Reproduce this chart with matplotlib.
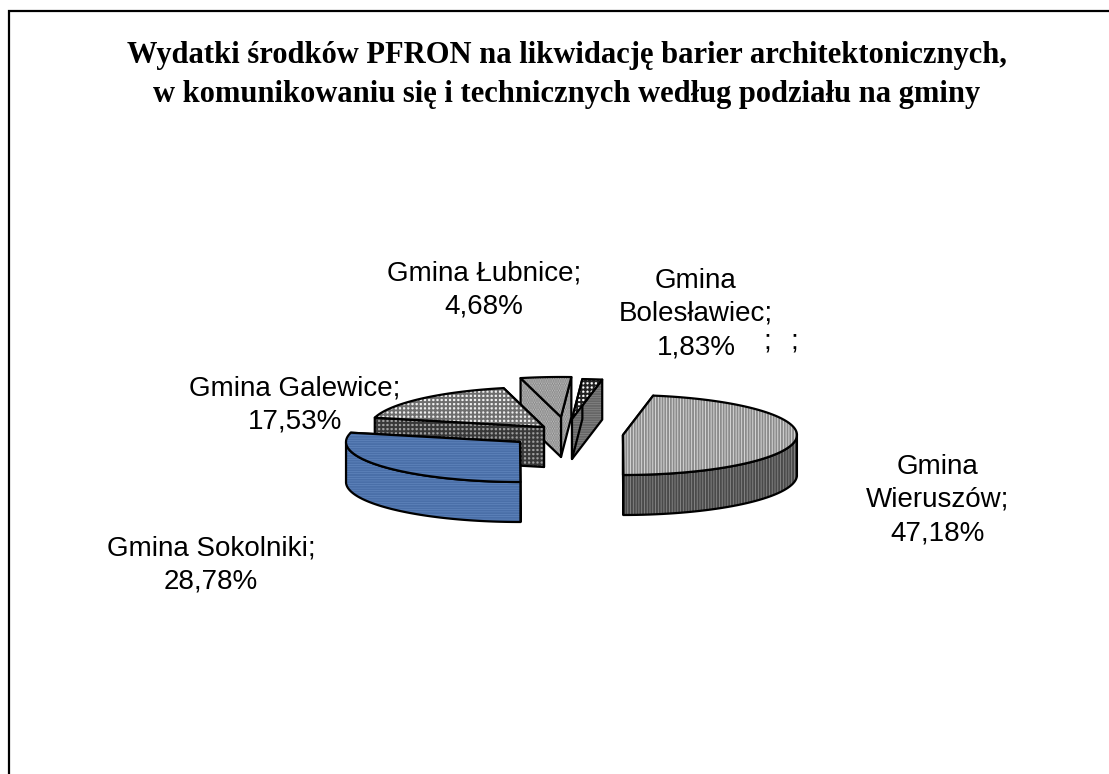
"""Exploded 3D pie: PFRON spending per gmina. Slice angles come from SHARES."""

import numpy as np
import matplotlib

matplotlib.use("Agg")
import matplotlib.pyplot as plt
from matplotlib.patches import Polygon

TITLE = ("Wydatki środków PFRON na likwidację barier architektonicznych,\n"
         "w komunikowaniu się i technicznych według podziału na gminy")
NAMES = ["Gmina\nWieruszów", "Gmina Sokolniki", "Gmina Galewice",
         "Gmina Łubnice", "Gmina\nBolesławiec"]
SHARES = [47.18, 28.78, 17.53, 4.68, 1.83]

# pixel layout of the slices (the image is drawn in pixel coordinates)
RX, RY, DEPTH = 174, 40, 40
START = 80.0
APEX = [(623, 435), (520, 442), (544, 427), (561, 417), (572, 419)]
LABEL_XY = [(938, 500), (211, 565), (295, 405), (484, 290), (696, 314)]
EMPTY_SEP_X = [767, 794]

# (face colour, hatch colour, hatch) for top and side
TOP_STYLE = [("#e2e2e2", "#8c8c8c", "||||||"), ("#6d92c9", "#4a6fa8", "-------"),
             ("#f0f0f0", "#6e6e6e", "++++"), ("#c4c4c4", "#808080", "......."),
             ("#ffffff", "#222222", "++++")]
SIDE_STYLE = [("#8a8a8a", "#4a4a4a", "||||||"), ("#6d92c9", "#4a6fa8", "-------"),
              ("#a0a0a0", "#383838", "++++"), ("#c4c4c4", "#808080", "......."),
              ("#9a9a9a", "#666666", "-------")]


def rim(apex, t):
    return apex[0] + RX * np.cos(t), apex[1] - RY * np.sin(t)


def face(ax, pts, style, z):
    fc, hc, hatch = style
    ax.add_patch(Polygon(pts, closed=True, facecolor=fc, edgecolor=hc, hatch=hatch, lw=0, zorder=z))
    ax.add_patch(Polygon(pts, closed=True, fill=False, edgecolor="black", lw=1.6,
                         joinstyle="round", zorder=z + 0.01))


def draw_slice(ax, apex, t0, t1, top, side, z):
    ts = np.radians(np.linspace(t0, t1, 80))
    xs, ys = rim(apex, ts)
    down = lambda p: [(x, y + DEPTH) for x, y in p]

    # radial faces first, the outer wall and the top cover what is hidden
    for tr in (ts[-1], ts[0]):
        edge = [apex, rim(apex, tr)]
        face(ax, edge + down(edge)[::-1], side, z)
        z += 0.1

    front = ts[np.sin(ts) <= 0]
    if len(front) > 1:
        wall = list(zip(*rim(apex, front)))
        face(ax, wall + down(wall)[::-1], side, z)
        z += 0.1

    face(ax, [apex] + list(zip(xs, ys)), top, z)


def main():
    plt.rcParams["hatch.linewidth"] = 1.4
    fig = plt.figure(figsize=(11.09, 7.74), dpi=100)
    ax = fig.add_axes([0, 0, 1, 1])
    ax.set_xlim(0, 1109)
    ax.set_ylim(774, 0)
    ax.axis("off")

    # chart frame: only the left and top lines fall inside the image
    ax.plot([9, 9, 1109], [774, 11, 11], color="black", lw=1.6, solid_joinstyle="miter")

    ax.text(567, 75, TITLE, ha="center", va="center", family="Liberation Serif",
            weight="bold", fontsize=22, linespacing=1.45)

    # back slices first so the nearer ones overlap them
    angles = START - np.cumsum([0] + SHARES) * 3.6
    for z, i in enumerate([4, 3, 2, 0, 1]):
        draw_slice(ax, APEX[i], angles[i], angles[i + 1], TOP_STYLE[i], SIDE_STYLE[i], 2 + z)

    for name, share, xy in zip(NAMES, SHARES, LABEL_XY):
        ax.text(xy[0], xy[1], f"{name};\n{share:.2f}%".replace(".", ","), ha="center", va="center",
                family="Liberation Sans", fontsize=20, linespacing=1.37, zorder=20)
    # leftover separators of the two empty categories
    for x in EMPTY_SEP_X:
        ax.text(x, 341, ";", ha="center", va="center", family="Liberation Sans",
                fontsize=20, zorder=20)

    fig.savefig("out.png", dpi=100)


if __name__ == "__main__":
    main()
